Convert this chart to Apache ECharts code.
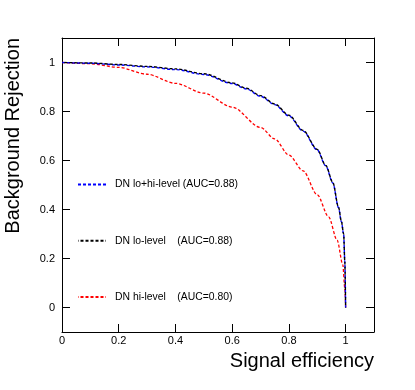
<!DOCTYPE html>
<html>
<head>
<meta charset="utf-8">
<script src="https://cdn.jsdelivr.net/npm/echarts@6/dist/echarts.min.js"></script>
<style>
  html, body { margin: 0; padding: 0; background: #fff; }
  #rocBox { width: 415px; height: 390px; }
</style>
</head>
<body>
<div id="rocBox"></div>
<script>
  // signal efficiency points (x) and background rejection (y)
  var effLoHi = [0, 0.1, 0.2, 0.3, 0.4, 0.5, 0.6, 0.65, 0.7, 0.75, 0.8, 0.85, 0.9, 0.93, 0.955, 0.975, 0.985, 0.993, 0.997, 1.0]
  var rejLoHi = [1.0, 0.997, 0.99, 0.982, 0.971, 0.951, 0.914, 0.892, 0.862, 0.828, 0.782, 0.72, 0.643, 0.578, 0.508, 0.407, 0.35, 0.30, 0.19, 0.0]

  var effLo = [0, 0.1, 0.2, 0.3, 0.4, 0.5, 0.6, 0.65, 0.7, 0.75, 0.8, 0.85, 0.9, 0.93, 0.955, 0.975, 0.985, 0.993, 0.997, 1.0]
  var rejLo = [1.0, 0.998, 0.992, 0.984, 0.974, 0.954, 0.917, 0.895, 0.865, 0.831, 0.785, 0.723, 0.645, 0.58, 0.51, 0.409, 0.352, 0.30, 0.19, 0.0]

  var effHi = [0, 0.1, 0.2, 0.3, 0.4, 0.5, 0.6, 0.7, 0.75, 0.8, 0.85, 0.9, 0.94, 0.97, 0.99, 0.997, 1.0]
  var rejHi = [1.0, 0.995, 0.98, 0.952, 0.915, 0.875, 0.818, 0.735, 0.688, 0.622, 0.558, 0.46, 0.37, 0.275, 0.175, 0.08, 0.0]

  var seriesNames = ['DN lo+hi-level (AUC=0.88)', 'DN lo-level    (AUC=0.88)', 'DN hi-level    (AUC=0.80)']
  var yTickLabels = ['0', '0.2', '0.4', '0.6', '0.8', '1']

  function pairs(xs, ys) {
    var out = []
    xs.forEach(function (x, i) { out.push([x, ys[i]]) })
    return out
  }

  var font = 'Liberation Sans'
  var myChart = echarts.init(document.getElementById('rocBox'))

  // frame axis: black line, short ticks pointing into the plot
  function frameAxis(pos, min, extra) {
    var ax = {
      type: 'value',
      position: pos,
      min: min,
      max: 1.1,
      axisLine: { show: true, onZero: false, lineStyle: { color: '#000', width: 1 } },
      axisTick: { show: true, inside: true, length: 8, lineStyle: { color: '#000', width: 1 } },
      splitLine: { show: false },
      axisLabel: { show: false }
    }
    return Object.assign(ax, extra)
  }

  let option = {
    animation: false,
    backgroundColor: '#fff',
    grid: { left: 62, right: 41, top: 38, bottom: 58 },
    xAxis: [
      frameAxis('bottom', 0, {
        interval: 0.2,
        axisLabel: { show: true, showMaxLabel: false, margin: 3, color: '#000', fontSize: 11, fontFamily: font }
      }),
      frameAxis('top', 0, { interval: 0.2 })
    ],
    yAxis: [
      frameAxis('left', -0.1, {
        splitNumber: 6,
        axisLabel: {
          show: true, showMinLabel: false, showMaxLabel: false, margin: 7,
          color: '#000', fontSize: 11, fontFamily: font,
          formatter: function (val) {
            var k = Math.round(val / 0.2)
            return yTickLabels[k] !== undefined ? yTickLabels[k] : ''
          }
        }
      }),
      frameAxis('right', -0.1, { splitNumber: 6 })
    ],
    legend: {
      orient: 'vertical',
      left: 77,
      top: 179,
      padding: 0,
      itemWidth: 28,
      itemHeight: 14,
      itemGap: 45,
      data: seriesNames,
      itemStyle: { opacity: 0 },
      textStyle: { color: '#000', fontSize: 10.4, fontFamily: font, padding: [0, 0, 0, 4] }
    },
    graphic: [
      {
        type: 'text', x: 374, y: 351,
        style: { text: 'Signal efficiency', fill: '#000', fontSize: 20, fontFamily: font, align: 'right', verticalAlign: 'top' }
      },
      {
        type: 'text', x: 13, y: 38, rotation: Math.PI / 2,
        style: { text: 'Background Rejection', fill: '#000', fontSize: 20, fontFamily: font, align: 'right', verticalAlign: 'middle' }
      }
    ],
    series: [
      {
        name: seriesNames[2], type: 'line', symbol: 'none', smooth: 0.3, smoothMonotone: 'x',
        data: pairs(effHi, rejHi),
        lineStyle: { color: '#ff0000', width: 1.3, type: [3, 2] },
        itemStyle: { color: '#ff0000' }
      },
      {
        name: seriesNames[0], type: 'line', symbol: 'none', smooth: 0.3, smoothMonotone: 'x',
        data: pairs(effLoHi, rejLoHi),
        lineStyle: { color: '#0000ff', width: 1.4, type: [3, 2] },
        itemStyle: { color: '#0000ff' }
      },
      {
        name: seriesNames[1], type: 'line', symbol: 'none', smooth: 0.3, smoothMonotone: 'x',
        data: pairs(effLo, rejLo),
        lineStyle: { color: '#000000', width: 1.4, type: [3, 2], dashOffset: 2.5 },
        itemStyle: { color: '#000000' }
      }
    ]
  }
  myChart.setOption(option)
</script>
</body>
</html>
